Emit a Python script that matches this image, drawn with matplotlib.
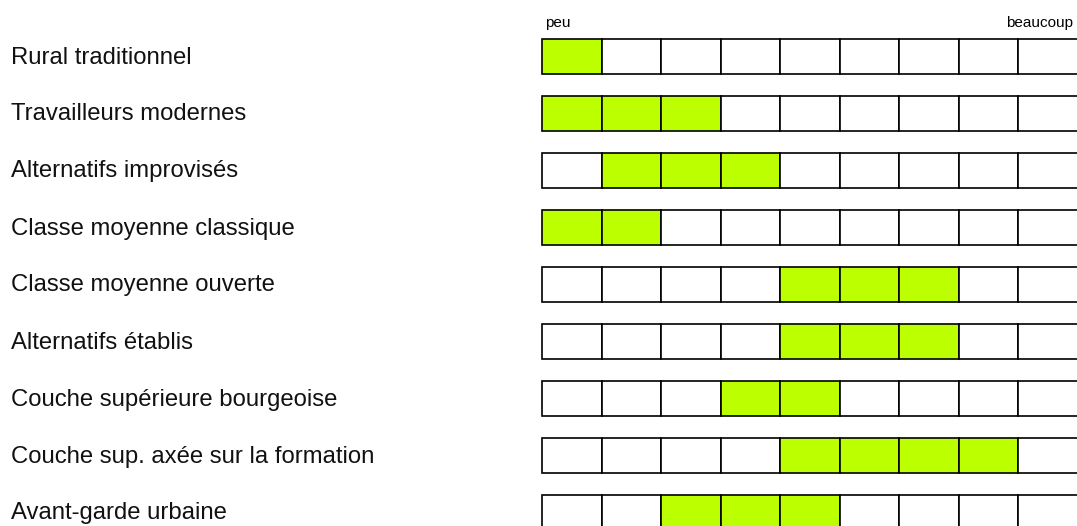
import matplotlib
matplotlib.use('Agg')
import matplotlib.pyplot as plt
import matplotlib.transforms as mtransforms

plt.rcParams['font.family'] = ['Liberation Sans', 'DejaVu Sans']

# milieux (rows) and the range of cells that are filled (start inclusive, end exclusive)
milieux = ['Rural traditionnel', 'Travailleurs modernes', 'Alternatifs improvisés',
           'Classe moyenne classique', 'Classe moyenne ouverte', 'Alternatifs établis',
           'Couche supérieure bourgeoise', 'Couche sup. axée sur la formation',
           'Avant-garde urbaine']
start = [0, 0, 1, 0, 4, 4, 3, 4, 2]
end = [1, 3, 4, 2, 7, 7, 5, 8, 5]
n_cells = 9
scale_labels = ['peu', 'beaucoup']

green = '#BBFF00'

W, H = 1077, 526
fig = plt.figure(figsize=(W / 100, H / 100), dpi=100)

# grid area: cells from x=542 px, each ~59.5 px; rows every 57 px
cell_w = 59.55
left_px = 542
row_pitch = 57
first_center = 56.5
ax = fig.add_axes([left_px / W, 0, n_cells * cell_w / W, 1])
ax.set_xlim(0, n_cells)
ax.set_ylim((H - first_center) / row_pitch, -first_center / row_pitch)
ax.axis('off')

for i, name in enumerate(milieux):
    cols = list(range(n_cells))
    colors = [green if start[i] <= c < end[i] else 'white' for c in cols]
    ax.barh([i] * n_cells, [1] * n_cells, left=cols, height=35 / row_pitch,
            color=colors, edgecolor='black', linewidth=1.2, align='center',
            clip_on=False)

trans = mtransforms.blended_transform_factory(fig.transFigure, ax.transData)
for i, name in enumerate(milieux):
    ax.text(11 / W, i + 7 / row_pitch, name, transform=trans, ha='left',
            va='baseline', fontsize=17.2, color='#111111')

ytop = (26.7 - first_center) / row_pitch
ax.text(0.05, ytop, scale_labels[0], ha='left', va='baseline', fontsize=11)
ax.text(n_cells - 0.08, ytop, scale_labels[1], ha='right', va='baseline', fontsize=11,
        clip_on=False)

fig.savefig('out.png', dpi=100)
